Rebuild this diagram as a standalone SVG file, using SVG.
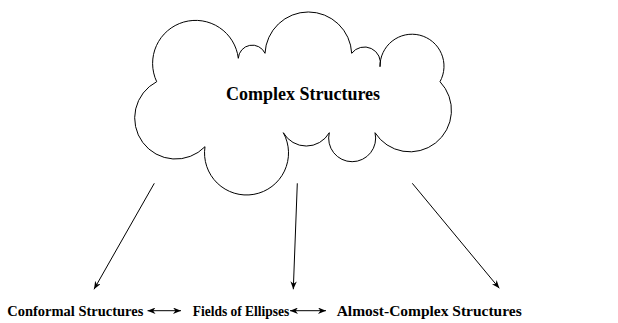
<svg xmlns="http://www.w3.org/2000/svg" width="618" height="323" viewBox="0 0 618 323">
<style>
.line{fill:none;stroke:#000;stroke-width:1}
.cloud{fill:#fff;stroke:#000;stroke-width:1}
.lbl{font-family:"Liberation Serif","Times New Roman",serif;font-weight:bold;fill:#000}
</style>
<defs>
<marker id="ah" viewBox="0 0 10 8" refX="10" refY="4" markerWidth="8" markerHeight="6.4" orient="auto-start-reverse" markerUnits="userSpaceOnUse">
<path d="M0,0 L10,4 L0,8 L3,4 Z" fill="#000"/>
</marker>
</defs>
<rect width="618" height="323" fill="#fff"/>
<g id="complex-structures">
<path class="cloud" d="M156.7,81.7 A43,43 0 1 1 238.3,58.3 A14,14 0 0 1 265,53.3 A43.4,43.4 0 0 1 351.7,53.3 A16,16 0 0 1 380,66.7 A32,32 0 1 1 440,81.7 A41.5,41.5 0 1 1 375,132.7 A23.5,23.5 0 1 1 329.3,132.7 A26.5,26.5 0 0 1 283.3,132.7 A42,42 0 1 1 205,146.7 A41,41 0 1 1 156.7,81.7 Z"/>
<text class="lbl" x="303" y="100" font-size="18" text-anchor="middle">Complex Structures</text>
</g>
<g id="conformal-structures">
<text class="lbl" x="7.3" y="316" font-size="15" textLength="136" lengthAdjust="spacingAndGlyphs">Conformal Structures</text>
</g>
<g id="fields-of-ellipses">
<text class="lbl" x="192.7" y="316" font-size="15" textLength="96.6" lengthAdjust="spacingAndGlyphs">Fields of Ellipses</text>
</g>
<g id="almost-complex-structures">
<text class="lbl" x="336.7" y="316" font-size="15" textLength="185" lengthAdjust="spacingAndGlyphs">Almost-Complex Structures</text>
</g>
<g id="connectors">
<line class="line" x1="154.3" y1="183.3" x2="94" y2="289.3" marker-end="url(#ah)"/>
<line class="line" x1="297.3" y1="183.3" x2="293.3" y2="289.3" marker-end="url(#ah)"/>
<line class="line" x1="412.3" y1="183.3" x2="499.3" y2="288.3" marker-end="url(#ah)"/>
<line class="line" x1="147.5" y1="310.7" x2="181" y2="310.7" marker-start="url(#ah)" marker-end="url(#ah)"/>
<line class="line" x1="290" y1="310.7" x2="326" y2="310.7" marker-start="url(#ah)" marker-end="url(#ah)"/>
</g>
</svg>
